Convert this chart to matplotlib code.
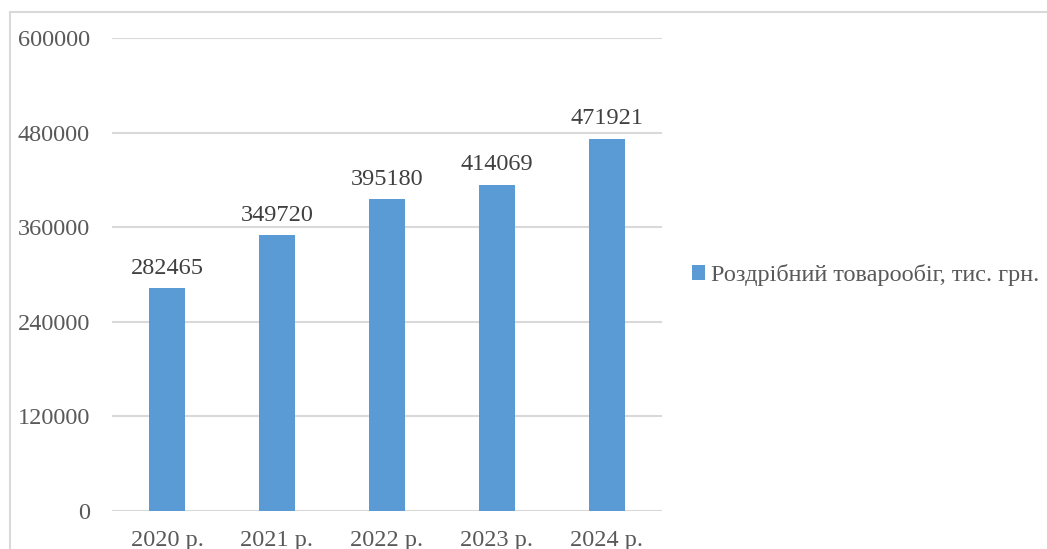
import matplotlib.pyplot as plt
from matplotlib.patches import Rectangle

years = ["2020 р.", "2021 р.", "2022 р.", "2023 р.", "2024 р."]
turnover = [282465, 349720, 395180, 414069, 471921]
yticks = [0, 120000, 240000, 360000, 480000, 600000]
series_name = "Роздрібний товарообіг, тис. грн."

plt.rcParams['font.family'] = ['Liberation Serif', 'DejaVu Serif']

W, H = 1047, 549
fig = plt.figure(figsize=(W / 100, H / 100), dpi=100)

# outer chart frame
fig.patches.append(Rectangle((10 / W, -0.1), 1.2, (H - 12) / H + 0.1,
                             transform=fig.transFigure, fill=False,
                             edgecolor='#d9d9d9', linewidth=1.5))

ax = fig.add_axes([112 / W, 1 - 511 / H, 550 / W, (511 - 38) / H])
x = range(len(years))
bars = ax.bar(x, turnover, width=0.32, color='#5b9bd5', zorder=3)
ax.set_xlim(-0.5, len(years) - 0.5)
ax.set_ylim(0, 600000)
ax.set_yticks(yticks)
ax.set_yticklabels([str(v) for v in yticks])
ax.set_xticks(list(x))
ax.set_xticklabels(years)
ax.grid(axis='y', color='#d9d9d9', linewidth=1.5, zorder=0)
for s in ax.spines.values():
    s.set_visible(False)
ax.tick_params(axis='both', length=0, labelsize=17.5, labelcolor='#595959')
ax.tick_params(axis='y', pad=16)
ax.tick_params(axis='x', pad=14)

for xi, v in zip(x, turnover):
    ax.annotate(str(v), (xi, v), xytext=(0, 7), textcoords='offset points',
                ha='center', va='bottom', fontsize=17.5, color='#404040')

leg = fig.legend([bars], [series_name], loc='center left',
                 bbox_to_anchor=(670 / W, 1 - 275 / H), frameon=False,
                 fontsize=17.5, handlelength=0.55, handleheight=0.55,
                 handletextpad=0.25, labelcolor='#595959')

fig.savefig('out.png', dpi=100)
